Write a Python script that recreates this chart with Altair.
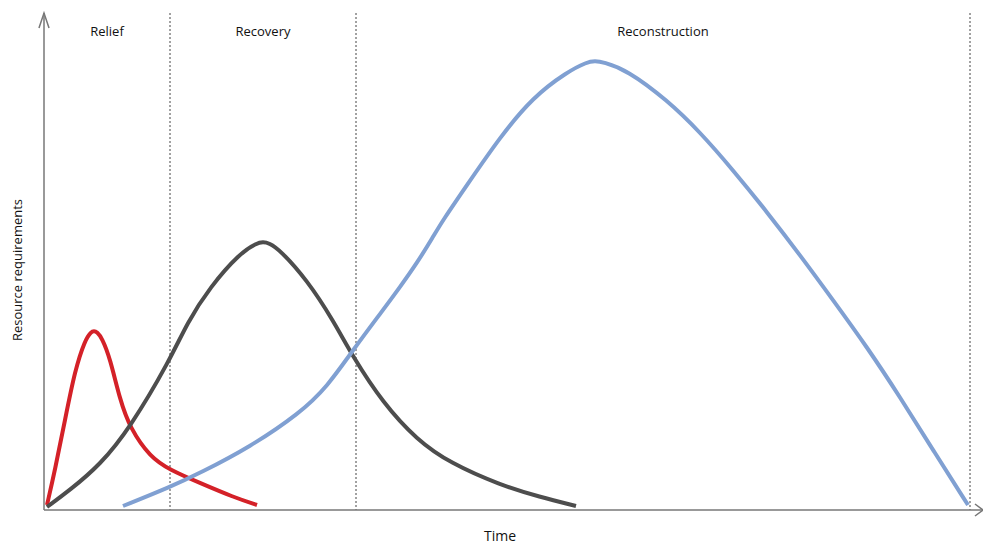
import altair as alt
import pandas as pd

# Curves (x: time units, y: resource units)
red_x = [3, 11, 21, 31, 41, 47, 50, 53, 58, 66, 76, 86, 106, 126, 156, 189, 213]
red_y = [5, 40, 90, 140, 170, 178, 179, 178, 172, 152, 110, 82, 53, 40, 27, 13, 5]

gray_x = [3, 26, 56, 86, 126, 143, 166, 196, 213, 219, 225, 236, 263, 289, 309, 339, 373, 406, 456, 496, 532]
gray_y = [3, 20, 45, 82, 150, 187, 223, 257, 267, 268, 267, 260, 230, 190, 153, 107, 70, 47, 25, 13, 4]

blue_x = [79, 126, 156, 206, 256, 283, 309, 339, 356, 373, 389, 399, 423, 456, 489, 523, 543, 551, 559, 583, 623, 656, 689, 723, 756, 789, 823, 856, 889, 924]
blue_y = [4, 23, 37, 63, 97, 123, 160, 200, 223, 247, 273, 290, 325, 373, 413, 438, 448, 449, 448, 440, 410, 378, 340, 298, 255, 210, 163, 113, 60, 5]

phase_names = ["Relief", "Recovery", "Reconstruction"]
phase_label_x = [63, 219, 619]
phase_bounds = [126, 312, 926]

X_MAX = 939
Y_MAX = 497

rows = []
for s, xs_, ys_ in [("relief", red_x, red_y), ("recovery", gray_x, gray_y), ("reconstruction", blue_x, blue_y)]:
    for a, b in zip(xs_, ys_):
        rows.append({"series": s, "x": a, "y": b})
curves = pd.DataFrame(rows)

xs = alt.Scale(domain=[0, X_MAX], nice=False, zero=False)
ys = alt.Scale(domain=[0, Y_MAX], nice=False, zero=False)

lines = alt.Chart(curves).mark_line(strokeWidth=4, interpolate="basis").encode(
    x=alt.X("x:Q", scale=xs, axis=None),
    y=alt.Y("y:Q", scale=ys, axis=None),
    color=alt.Color("series:N",
                    scale=alt.Scale(domain=["relief", "recovery", "reconstruction"],
                                    range=["#d42128", "#4d4d4d", "#80a0d2"]),
                    legend=None),
)

dividers = alt.Chart(pd.DataFrame({"x": phase_bounds})).mark_rule(
    strokeDash=[2, 2], stroke="#444444", strokeWidth=1
).encode(x=alt.X("x:Q", scale=xs, axis=None))

y_axis_line = alt.Chart(pd.DataFrame({"x": [0]})).mark_rule(stroke="#777777", strokeWidth=1.5).encode(
    x=alt.X("x:Q", scale=xs, axis=None)
)
x_axis_line = alt.Chart(pd.DataFrame({"y": [0]})).mark_rule(stroke="#777777", strokeWidth=1.5).encode(
    y=alt.Y("y:Q", scale=ys, axis=None)
)

arrow_up = alt.Chart(pd.DataFrame({"x": [0], "y": [Y_MAX]})).mark_point(
    shape="M -0.67 2 L 0 0 L 0.67 2", filled=False, stroke="#777777", strokeWidth=1.5, size=225, opacity=1
).encode(x=alt.X("x:Q", scale=xs, axis=None), y=alt.Y("y:Q", scale=ys, axis=None))

arrow_right = alt.Chart(pd.DataFrame({"x": [X_MAX], "y": [0]})).mark_point(
    shape="M -1.07 -0.8 L 0 0 L -1.07 0.8", filled=False, stroke="#777777", strokeWidth=1.5, size=225, opacity=1
).encode(x=alt.X("x:Q", scale=xs, axis=None), y=alt.Y("y:Q", scale=ys, axis=None))

phase_text = alt.Chart(pd.DataFrame({"x": phase_label_x, "t": phase_names})).mark_text(
    fontSize=13, font="Open Sans", color="#111111", baseline="middle"
).encode(x=alt.X("x:Q", scale=xs, axis=None), y=alt.value(19), text="t:N")

x_title = alt.Chart(pd.DataFrame({"t": ["Time"]})).mark_text(
    fontSize=14, font="Open Sans", color="#111111", baseline="middle"
).encode(x=alt.value(456), y=alt.value(524), text="t:N")

y_title = alt.Chart(pd.DataFrame({"t": ["Resource requirements"]})).mark_text(
    fontSize=13, font="Open Sans", color="#111111", angle=270, baseline="middle"
).encode(x=alt.value(-26), y=alt.value(257), text="t:N")

chart = alt.layer(dividers, y_axis_line, x_axis_line, arrow_up, arrow_right, lines,
                  phase_text, x_title, y_title).properties(
    width=X_MAX, height=Y_MAX,
    autosize=alt.AutoSizeParams(type="none"),
    padding={"left": 36, "top": 5, "right": 0, "bottom": 40},
).configure_view(strokeWidth=0)

chart.save("out.html", embed_options={"renderer": "svg", "actions": False})
